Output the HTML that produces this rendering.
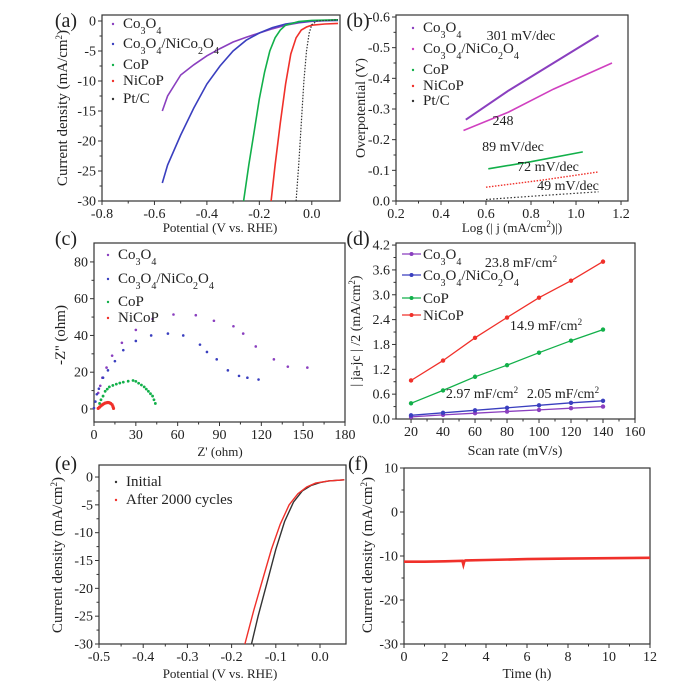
<!DOCTYPE html>
<html><head><meta charset="utf-8"><style>
html,body{margin:0;padding:0;background:#fff;}
svg{display:block;font-family:"Liberation Serif",serif;}
</style></head><body>
<svg id="fig" width="686" height="685" viewBox="0 0 686 685" xmlns="http://www.w3.org/2000/svg"></svg>
<script>
// ---------- DATA ----------
const aCo3O4X=[-0.57,-0.55,-0.5,-0.45,-0.4,-0.35,-0.3,-0.25,-0.2,-0.15,-0.1,-0.05,0,0.1];
const aCo3O4Y=[-15,-12.5,-9,-7.3,-5.8,-4.6,-3.5,-2.7,-2,-1.3,-0.7,-0.3,-0.05,0.2];
const aCompX=[-0.57,-0.55,-0.5,-0.45,-0.4,-0.35,-0.3,-0.25,-0.2,-0.15,-0.1,-0.05,0,0.1];
const aCompY=[-27,-24,-19,-14.5,-10.5,-7.5,-5,-3.2,-2,-1.1,-0.5,-0.2,0,0.1];
const aCoPX=[-0.26,-0.24,-0.22,-0.2,-0.18,-0.16,-0.14,-0.12,-0.1,-0.05,0,0.1];
const aCoPY=[-30,-24,-18.5,-13,-8.5,-5,-2.8,-1.5,-0.7,-0.1,0.1,0.2];
const aNiCoPX=[-0.155,-0.14,-0.12,-0.1,-0.08,-0.06,-0.04,-0.02,0,0.05,0.1];
const aNiCoPY=[-30,-24,-17,-10.5,-5.5,-2.8,-1.5,-1,-0.7,-0.5,-0.4];
const aPtX=[-0.06,-0.05,-0.04,-0.03,-0.02,-0.01,0,0.02,0.1];
const aPtY=[-30,-24,-17,-10,-5,-2,-0.6,0,0.2];
const bCo3O4X=[0.51,0.7,0.9,1.1];const bCo3O4Y=[-0.265,-0.36,-0.45,-0.54];
const bCompX=[0.5,0.7,0.9,1.16];const bCompY=[-0.23,-0.29,-0.365,-0.45];
const bCoPX=[0.61,0.8,1.03];const bCoPY=[-0.105,-0.128,-0.16];
const bNiCoPX=[0.6,0.85,1.1];const bNiCoPY=[-0.045,-0.068,-0.095];
const bPtX=[0.6,0.85,1.1];const bPtY=[-0.005,-0.018,-0.03];
const cCo3O4X=[3,4.5,6,9,13,20,30,42,57,73,86,100,107,116,129,139,153];
const cCo3O4Y=[8.7,12.6,17,22.5,29,36,43,49,51.4,51,48,45,41,34,27,23,22.5];
const cCompX=[0,1,2,3.5,6.5,10,15,21,30,41,53,64,76,81,88,96,104,110,118];
const cCompY=[0.5,4,8,11,17,21,26,32,37,40,41,40,35,31,27,21,18,17,16];
const cCoPX=[4,5,6.5,8,9.5,11,13.5,16,18.5,21,24.5,28,30,32,34,36,37.5,39,40.5,42,43,44];
const cCoPY=[3,5,7,9.6,10.8,12,12.8,13.5,14.1,14.6,15.1,15.5,15,14,13,12,10.8,9.6,8.3,7,5,3];
const cNiCoPX=[3,4,5,6,7,8,9,10,11,12,13,13.6,14];
const cNiCoPY=[0.3,1,1.7,2.3,2.8,3.2,3.4,3.5,3.4,3,2.3,1.3,0.3];
const dScan=[20,40,60,80,100,120,140];
const dCo3O4=[0.05,0.10,0.14,0.18,0.22,0.26,0.30];
const dComp=[0.09,0.15,0.21,0.27,0.33,0.39,0.44];
const dCoP=[0.38,0.69,1.02,1.30,1.60,1.89,2.16];
const dNiCoP=[0.93,1.41,1.96,2.45,2.93,3.34,3.80];
const eInitX=[-0.155,-0.14,-0.12,-0.1,-0.08,-0.06,-0.04,-0.02,0,0.02,0.055];
const eInitY=[-30,-25,-19,-13,-8,-4.5,-2.5,-1.5,-1,-0.7,-0.5];
const eAfterX=[-0.17,-0.15,-0.13,-0.11,-0.09,-0.07,-0.05,-0.03,-0.01,0.02,0.055];
const eAfterY=[-30,-24,-18.5,-13,-8.5,-5,-3,-1.8,-1.1,-0.7,-0.5];
const fTime=[0,0.5,1,2,2.85,2.9,2.95,3,4,6,8,10,12];
const fCurr=[-11.3,-11.3,-11.3,-11.2,-11.1,-12,-11.1,-11.0,-10.9,-10.7,-10.6,-10.5,-10.4];

// ---------- HELPERS ----------
const NS="http://www.w3.org/2000/svg";
const fig=document.getElementById('fig');
function mk(tag,attrs,parent){const e=document.createElementNS(NS,tag);for(const k in attrs)e.setAttribute(k,attrs[k]);(parent||fig).appendChild(e);return e;}
function txt(x,y,html,size,anchor,parent,name,rot){
  const t=mk('text',{x:x,y:y,'font-size':size,'text-anchor':anchor||'middle',fill:'#222'},parent);
  if(rot)t.setAttribute('transform','rotate(-90 '+x+' '+y+')');
  t.innerHTML=html;
  
  
  return t;
}
function makePanel(c){
  const g=mk('g',{});
  
  
  const sx=v=>c.x0+(v-c.xd[0])/(c.xd[1]-c.xd[0])*(c.x1-c.x0);
  const sy=v=>c.y1-(v-c.yd[0])/(c.yd[1]-c.yd[0])*(c.y1-c.y0);
  const box=mk('rect',{x:c.x0,y:c.y0,width:c.x1-c.x0,height:c.y1-c.y0,fill:'none',stroke:'#333','stroke-width':1.2},g);
  
  
  c.xt.forEach((v,i)=>{const X=sx(v);mk('line',{x1:X,x2:X,y1:c.y1,y2:c.y1+4,stroke:'#333'},g);
    txt(X,c.y1+17,c.xl[i],14,'middle',g,'x-tick-label');});
  (c.xm||[]).forEach(v=>{const X=sx(v);mk('line',{x1:X,x2:X,y1:c.y1,y2:c.y1+2.5,stroke:'#333'},g);});
  c.yt.forEach((v,i)=>{const Y=sy(v);mk('line',{x1:c.x0-4,x2:c.x0,y1:Y,y2:Y,stroke:'#333'},g);
    txt(c.x0-6,Y+4.5,c.yl[i],14,'end',g,'y-tick-label');});
  (c.ym||[]).forEach(v=>{const Y=sy(v);mk('line',{x1:c.x0-2.5,x2:c.x0,y1:Y,y2:Y,stroke:'#333'},g);});
  return {g,sx,sy};
}
function line(p,xs,ys,color,w,dash,name){
  const pts=xs.map((x,i)=>p.sx(x).toFixed(1)+','+p.sy(ys[i]).toFixed(1)).join(' ');
  const l=mk('polyline',{points:pts,fill:'none',stroke:color,'stroke-width':w},p.g);
  if(dash)l.setAttribute('stroke-dasharray',dash);
  
  
  return l;
}
function dots(p,xs,ys,color,r,name){
  const g=mk('g',{},p.g);
  
  
  xs.forEach((x,i)=>mk('circle',{cx:p.sx(x),cy:p.sy(ys[i]),r:r,fill:color},g));
}
function legendDot(x,y,color,label,g){
  mk('circle',{cx:x,cy:y-4,r:1.2,fill:color},g);
  txt(x+10,y,label,15,'start',g,'legend-entry');
}
const C3='Co<tspan baseline-shift="sub" font-size="10">3</tspan>O<tspan baseline-shift="sub" font-size="10">4</tspan>';
const COMP=C3+'/NiCo<tspan baseline-shift="sub" font-size="10">2</tspan>O<tspan baseline-shift="sub" font-size="10">4</tspan>';
const SQ='<tspan baseline-shift="super" font-size="9">2</tspan>';
const PUR='#8a3fbf',BLU='#3a3fbf',GRN='#12b04a',RED='#f0302a',PINK='#d040c0';

// ---------- (a) ----------
let pa=makePanel({name:'panel-a',x0:102,x1:340,y0:15,y1:201,xd:[-0.8,0.1076],yd:[-30,1],
  xt:[-0.8,-0.6,-0.4,-0.2,0],xl:['-0.8','-0.6','-0.4','-0.2','0.0'],xm:[-0.7,-0.5,-0.3,-0.1],
  yt:[0,-5,-10,-15,-20,-25,-30],yl:['0','-5','-10','-15','-20','-25','-30'],ym:[-2.5,-7.5,-12.5,-17.5,-22.5,-27.5]});
line(pa,aCo3O4X,aCo3O4Y,PUR,1.6,null,'series-co3o4');
line(pa,aCompX,aCompY,BLU,1.6,null,'series-co3o4-nico2o4');
line(pa,aCoPX,aCoPY,GRN,1.6,null,'series-cop');
line(pa,aNiCoPX,aNiCoPY,RED,1.6,null,'series-nicop');
line(pa,aPtX,aPtY,'#333',1.2,'1.5,1.5','series-pt-c');
legendDot(113,28,PUR,C3,pa.g);legendDot(113,48,BLU,COMP,pa.g);legendDot(113,69,GRN,'CoP',pa.g);
legendDot(113,85,RED,'NiCoP',pa.g);legendDot(113,103,'#333','Pt/C',pa.g);
txt(66,27,'(a)',20,'middle',fig,'panel-label-a');
txt(67,108,'Current density (mA/cm'+SQ+')',15,'middle',fig,'y-axis-title-a',true);
txt(220,232,'Potential (V vs. RHE)',13,'middle',fig,'x-axis-title-a');

// ---------- (b) ----------
let pb=makePanel({name:'panel-b',x0:396,x1:628,y0:15,y1:201,xd:[0.2,1.231],yd:[0,-0.6065],
  xt:[0.2,0.4,0.6,0.8,1.0,1.2],xl:['0.2','0.4','0.6','0.8','1.0','1.2'],xm:[0.3,0.5,0.7,0.9,1.1],
  yt:[-0.6,-0.5,-0.4,-0.3,-0.2,-0.1,0],yl:['-0.6','-0.5','-0.4','-0.3','-0.2','-0.1','0.0'],ym:[-0.55,-0.45,-0.35,-0.25,-0.15,-0.05]});
line(pb,bCo3O4X,bCo3O4Y,PUR,2,null,'series-co3o4');
line(pb,bCompX,bCompY,PINK,1.6,null,'series-co3o4-nico2o4');
line(pb,bCoPX,bCoPY,GRN,1.6,null,'series-cop');
line(pb,bNiCoPX,bNiCoPY,RED,1.4,'1.5,1.5','series-nicop');
line(pb,bPtX,bPtY,'#333',1.2,'1.5,2','series-pt-c');
legendDot(413,32,PUR,C3,pb.g);legendDot(413,53,PINK,COMP,pb.g);legendDot(413,74,GRN,'CoP',pb.g);
legendDot(413,90,RED,'NiCoP',pb.g);legendDot(413,105,'#333','Pt/C',pb.g);
txt(521,40,'301 mV/dec',14,'middle',pb.g,'annotation-301');
txt(503,125,'248',14,'middle',pb.g,'annotation-248');
txt(513,151,'89 mV/dec',14,'middle',pb.g,'annotation-89');
txt(548,171,'72 mV/dec',14,'middle',pb.g,'annotation-72');
txt(568,190,'49 mV/dec',14,'middle',pb.g,'annotation-49');
txt(358,27,'(b)',20,'middle',fig,'panel-label-b');
txt(365,108,'Overpotential (V)',14,'middle',fig,'y-axis-title-b',true);
txt(512,232,'Log (| j (mA/cm'+SQ+')|)',13,'middle',fig,'x-axis-title-b');

// ---------- (c) ----------
let pc=makePanel({name:'panel-c',x0:94,x1:345,y0:243,y1:422,xd:[0,180],yd:[-7.1,90.3],
  xt:[0,30,60,90,120,150,180],xl:['0','30','60','90','120','150','180'],xm:[15,45,75,105,135,165],
  yt:[0,20,40,60,80],yl:['0','20','40','60','80'],ym:[10,30,50,70]});
dots(pc,cCo3O4X,cCo3O4Y,PUR,1.3,'series-co3o4');
dots(pc,cCompX,cCompY,BLU,1.3,'series-co3o4-nico2o4');
dots(pc,cCoPX,cCoPY,GRN,1.4,'series-cop');
dots(pc,cNiCoPX,cNiCoPY,RED,1.6,'series-nicop');
legendDot(108,259,PUR,C3,pc.g);legendDot(108,283,BLU,COMP,pc.g);legendDot(108,306,GRN,'CoP',pc.g);legendDot(108,322,RED,'NiCoP',pc.g);
txt(66,245,'(c)',20,'middle',fig,'panel-label-c');
txt(65,335,'-Z\'\' (ohm)',15,'middle',fig,'y-axis-title-c',true);
txt(220,456,'Z\' (ohm)',13,'middle',fig,'x-axis-title-c');

// ---------- (d) ----------
let pd=makePanel({name:'panel-d',x0:396,x1:635,y0:243,y1:419,xd:[10.6,160],yd:[0,4.25],
  xt:[20,40,60,80,100,120,140,160],xl:['20','40','60','80','100','120','140','160'],xm:[30,50,70,90,110,130,150],
  yt:[0,0.6,1.2,1.8,2.4,3.0,3.6,4.2],yl:['0.0','0.6','1.2','1.8','2.4','3.0','3.6','4.2'],ym:[0.3,0.9,1.5,2.1,2.7,3.3,3.9]});
[[dCo3O4,PUR,'series-co3o4'],[dComp,BLU,'series-co3o4-nico2o4'],[dCoP,GRN,'series-cop'],[dNiCoP,RED,'series-nicop']].forEach(s=>{
  line(pd,dScan,s[0],s[1],1.3,null,s[2]);dots(pd,dScan,s[0],s[1],2.2,s[2]+'-markers');});
[[254,PUR,C3],[275,BLU,COMP],[298,GRN,'CoP'],[315,RED,'NiCoP']].forEach(r=>{
  mk('line',{x1:402,x2:421,y1:r[0],y2:r[0],stroke:r[1],'stroke-width':1.3},pd.g);
  mk('circle',{cx:411.5,cy:r[0],r:2,fill:r[1]},pd.g);
  txt(423,r[0]+5,r[2],15,'start',pd.g,'legend-entry');});
txt(521,267,'23.8 mF/cm'+SQ,14,'middle',pd.g,'annotation-23-8');
txt(546,330,'14.9 mF/cm'+SQ,14,'middle',pd.g,'annotation-14-9');
txt(482,398,'2.97 mF/cm'+SQ,14,'middle',pd.g,'annotation-2-97');
txt(563,398,'2.05 mF/cm'+SQ,14,'middle',pd.g,'annotation-2-05');
txt(358,245,'(d)',20,'middle',fig,'panel-label-d');
txt(360,331,'| ja-jc | /2 (mA/cm'+SQ+')',14,'middle',fig,'y-axis-title-d',true);
txt(515,455,'Scan rate (mV/s)',14,'middle',fig,'x-axis-title-d');

// ---------- (e) ----------
let pe=makePanel({name:'panel-e',x0:99,x1:346,y0:465,y1:644,xd:[-0.5,0.0588],yd:[-30,2.16],
  xt:[-0.5,-0.4,-0.3,-0.2,-0.1,0],xl:['-0.5','-0.4','-0.3','-0.2','-0.1','0.0'],xm:[-0.45,-0.35,-0.25,-0.15,-0.05],
  yt:[0,-5,-10,-15,-20,-25,-30],yl:['0','-5','-10','-15','-20','-25','-30'],ym:[-2.5,-7.5,-12.5,-17.5,-22.5,-27.5]});
line(pe,eInitX,eInitY,'#333',1.4,null,'series-initial');
line(pe,eAfterX,eAfterY,RED,1.4,null,'series-after-2000-cycles');
legendDot(116,486,'#333','Initial',pe.g);legendDot(116,504,RED,'After 2000 cycles',pe.g);
txt(66,470,'(e)',20,'middle',fig,'panel-label-e');
txt(62,555,'Current density (mA/cm'+SQ+')',15,'middle',fig,'y-axis-title-e',true);
txt(220,678,'Potential (V vs. RHE)',13,'middle',fig,'x-axis-title-e');

// ---------- (f) ----------
let pf=makePanel({name:'panel-f',x0:404,x1:650,y0:468,y1:644,xd:[0,12],yd:[-30,10],
  xt:[0,2,4,6,8,10,12],xl:['0','2','4','6','8','10','12'],xm:[1,3,5,7,9,11],
  yt:[10,0,-10,-20,-30],yl:['10','0','-10','-20','-30'],ym:[5,-5,-15,-25]});
line(pf,fTime,fCurr,RED,2.6,null,'series-current-vs-time');
txt(358,470,'(f)',20,'middle',fig,'panel-label-f');
txt(372,555,'Current density (mA/cm'+SQ+')',15,'middle',fig,'y-axis-title-f',true);
txt(527,678,'Time (h)',14,'middle',fig,'x-axis-title-f');
</script>
</body></html>
